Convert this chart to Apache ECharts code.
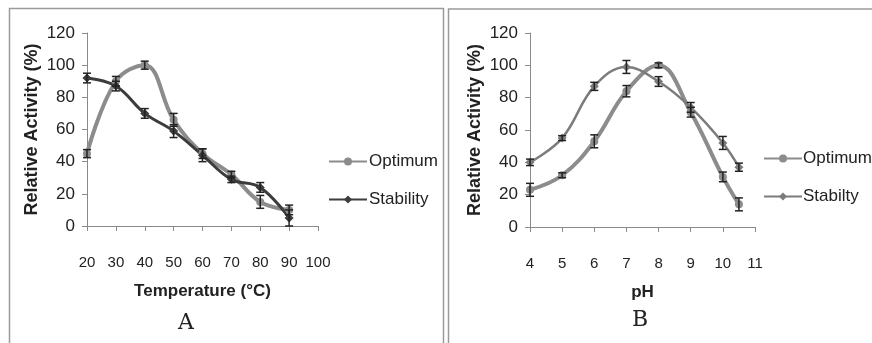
<!DOCTYPE html>
<html>
<head>
<meta charset="utf-8">
<script src="https://cdn.jsdelivr.net/npm/echarts@6/dist/echarts.min.js"></script>
<style>
  html, body { margin: 0; padding: 0; background: #fff; }
  #main { width: 872px; height: 343px; }
</style>
</head>
<body>
<div id="main"></div>
<script>
// panel A: temperature
var tempX = [20, 30, 40, 50, 60, 70, 80, 90];
var tempOptimum = [45, 90, 100, 66, 45, 32, 15, 10];
var tempOptimumErr = [2.5, 3, 2.5, 4, 3, 2, 4, 3];
var tempStability = [92, 87, 70, 59, 44, 29, 24, 5];
var tempStabilityErr = [3, 3, 3, 4, 4, 2, 3, 5];
var tempTicks = [20, 30, 40, 50, 60, 70, 80, 90, 100];

// panel B: pH
var phX = [4, 5, 6, 7, 8, 9, 10, 10.5];
var phOptimum = [23, 32, 53, 84, 100, 71, 31, 14];
var phOptimumErr = [4, 1.5, 4, 3.5, 1.5, 3, 3, 4];
var phStabilty = [40, 55, 87, 99, 90, 74, 52, 37];
var phStabiltyErr = [2, 1.5, 2.5, 4, 3, 3, 4, 2.5];
var phTicks = [4, 5, 6, 7, 8, 9, 10, 11];

var activityTicks = [0, 20, 40, 60, 80, 100, 120];

function pairs(xs, ys) {
  return xs.map(function (x, i) { return [x, ys[i]]; });
}
function errPairs(xs, ys, es) {
  return xs.map(function (x, i) { return [x, ys[i] - es[i], ys[i] + es[i]]; });
}

function renderErr(params, api) {
  var x = api.value(0);
  var lo = api.coord([x, api.value(1)]);
  var hi = api.coord([x, api.value(2)]);
  var w = 4;
  var st = { stroke: '#222', lineWidth: 1.5 };
  return {
    type: 'group',
    children: [
      { type: 'line', shape: { x1: lo[0], y1: lo[1], x2: hi[0], y2: hi[1] }, style: st },
      { type: 'line', shape: { x1: lo[0] - w, y1: lo[1], x2: lo[0] + w, y2: lo[1] }, style: st },
      { type: 'line', shape: { x1: hi[0] - w, y1: hi[1], x2: hi[0] + w, y2: hi[1] }, style: st }
    ]
  };
}

var chart = echarts.init(document.getElementById('main'));

var axisCommon = {
  axisLine: { show: true, lineStyle: { color: '#8a8a8a', width: 1 } },
  axisTick: { show: true, length: 5, lineStyle: { color: '#8a8a8a' } },
  splitLine: { show: false }
};

function xAxis(idx, min, max, interval, name, ticks) {
  return Object.assign({}, axisCommon, {
    type: 'value', gridIndex: idx, min: min, max: max, interval: interval,
    name: name, nameLocation: 'middle', nameGap: 57,
    nameTextStyle: { fontFamily: 'Liberation Sans', fontWeight: 'bold', fontSize: 17, color: '#222' },
    axisLabel: {
      margin: 29, fontFamily: 'Liberation Sans', fontSize: 15, color: '#222',
      formatter: function (v) { return ticks.indexOf(v) >= 0 ? String(v) : ''; }
    }
  });
}
function yAxis(idx) {
  return Object.assign({}, axisCommon, {
    type: 'value', gridIndex: idx, min: 0, max: 120, interval: 20,
    name: 'Relative Activity (%)', nameLocation: 'middle', nameGap: 46,
    nameTextStyle: { fontFamily: 'Liberation Sans', fontWeight: 'bold', fontSize: 18, color: '#222' },
    axisLabel: {
      margin: 12, fontFamily: 'Liberation Sans', fontSize: 17, color: '#222',
      formatter: function (v) { return activityTicks.indexOf(v) >= 0 ? String(v) : ''; }
    }
  });
}

var option = {
  animation: false,
  backgroundColor: '#fff',
  grid: [
    { left: 87, top: 33, width: 231, height: 193 },
    { left: 530, top: 33, width: 225, height: 194 }
  ],
  xAxis: [
    xAxis(0, 20, 100, 10, 'Temperature (°C)', tempTicks),
    xAxis(1, 4, 11, 1, 'pH', phTicks)
  ],
  yAxis: [yAxis(0), yAxis(1)],
  legend: [
    {
      data: ['Optimum', 'Stability'], orient: 'vertical', left: 323, top: 148,
      itemWidth: 38, itemHeight: 10, itemGap: 21,
      textStyle: { fontFamily: 'Liberation Sans', fontSize: 17, color: '#222', padding: [0, 0, 0, -3] }
    },
    {
      data: ['Optimum', 'Stabilty'], orient: 'vertical', left: 758, top: 145,
      itemWidth: 38, itemHeight: 10, itemGap: 21,
      textStyle: { fontFamily: 'Liberation Sans', fontSize: 17, color: '#222', padding: [0, 0, 0, -4] }
    }
  ],
  graphic: [
    { type: 'rect', shape: { x: 9.5, y: 8.5, width: 434, height: 360 }, style: { fill: 'none', stroke: '#9a9a9a', lineWidth: 1.5 } },
    { type: 'rect', shape: { x: 448.5, y: 9, width: 440, height: 360 }, style: { fill: 'none', stroke: '#9a9a9a', lineWidth: 1.5 } },
    { type: 'text', left: 178, top: 312, style: { text: 'A', font: '22px "DejaVu Serif"', fill: '#222' } },
    { type: 'text', left: 632, top: 309, style: { text: 'B', font: '22px "DejaVu Serif"', fill: '#222' } }
  ],
  series: [
    {
      name: 'Optimum', type: 'line', xAxisIndex: 0, yAxisIndex: 0, smooth: 0.4,
      data: pairs(tempX, tempOptimum), symbol: 'circle', symbolSize: 8,
      itemStyle: { color: '#8c8c8c' }, lineStyle: { color: '#8c8c8c', width: 4 }
    },
    {
      name: 'Stability', type: 'line', xAxisIndex: 0, yAxisIndex: 0, smooth: 0.4,
      data: pairs(tempX, tempStability), symbol: 'diamond', symbolSize: 9,
      itemStyle: { color: '#3c3c3c' }, lineStyle: { color: '#3c3c3c', width: 3 }
    },
    {
      type: 'custom', xAxisIndex: 0, yAxisIndex: 0, renderItem: renderErr,
      data: errPairs(tempX, tempOptimum, tempOptimumErr), z: 5
    },
    {
      type: 'custom', xAxisIndex: 0, yAxisIndex: 0, renderItem: renderErr,
      data: errPairs(tempX, tempStability, tempStabilityErr), z: 5
    },
    {
      name: 'Optimum', type: 'line', xAxisIndex: 1, yAxisIndex: 1, smooth: 0.4,
      data: pairs(phX, phOptimum), symbol: 'circle', symbolSize: 8,
      itemStyle: { color: '#8c8c8c' }, lineStyle: { color: '#8c8c8c', width: 4 }
    },
    {
      name: 'Stabilty', type: 'line', xAxisIndex: 1, yAxisIndex: 1, smooth: 0.4,
      data: pairs(phX, phStabilty), symbol: 'diamond', symbolSize: 9,
      itemStyle: { color: '#7c7c7c' }, lineStyle: { color: '#7c7c7c', width: 2.5 }
    },
    {
      type: 'custom', xAxisIndex: 1, yAxisIndex: 1, renderItem: renderErr,
      data: errPairs(phX, phOptimum, phOptimumErr), z: 5
    },
    {
      type: 'custom', xAxisIndex: 1, yAxisIndex: 1, renderItem: renderErr,
      data: errPairs(phX, phStabilty, phStabiltyErr), z: 5
    }
  ]
};

chart.setOption(option);
</script>
</body>
</html>
